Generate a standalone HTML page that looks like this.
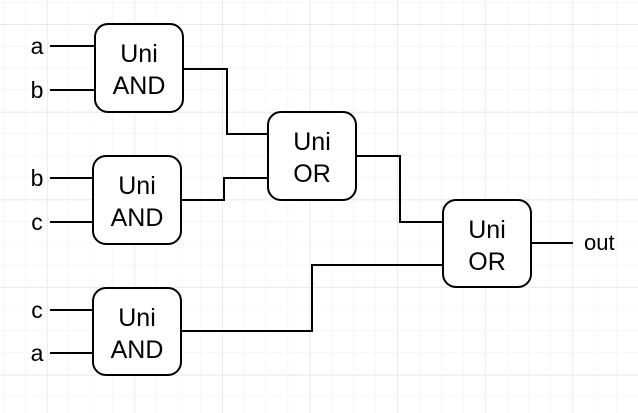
<!DOCTYPE html>
<html><head><style>
html,body{margin:0;padding:0;background:#fff;}
svg{display:block;}
text{font-family:"Liberation Sans",Arial,sans-serif;fill:#000;}
</style></head><body>
<svg width="638" height="413" viewBox="0 0 638 413" xmlns="http://www.w3.org/2000/svg">
<defs>
<pattern id="minor" width="21.9" height="21.9" patternUnits="userSpaceOnUse" x="3" y="2">
<path d="M0 0H21.9M0 0V21.9" stroke="#f0f0f0" stroke-width="1" fill="none"/>
</pattern>
<pattern id="major" width="87.6" height="87.6" patternUnits="userSpaceOnUse" x="47" y="24.5">
<path d="M0 0H87.6M0 0V87.6" stroke="#dedede" stroke-width="1" fill="none"/>
</pattern>
</defs>
<rect width="638" height="413" fill="url(#minor)"/>
<rect width="638" height="413" fill="url(#major)"/>
<g stroke="#000" stroke-width="2" fill="none">
<path d="M50 46H95M50 90H95"/>
<path d="M50 178H93M50 222H93"/>
<path d="M50 310H93M50 353H93"/>
<path d="M183 69H227V134H268"/>
<path d="M181 200H224V178H268"/>
<path d="M356 156H400V222H443"/>
<path d="M181 331H312V265H443"/>
<path d="M531 243H573"/>
<rect x="95" y="24" width="88" height="88" rx="13" fill="#fff"/>
<rect x="268" y="112" width="88" height="88" rx="13" fill="#fff"/>
<rect x="93" y="156" width="88" height="88" rx="13" fill="#fff"/>
<rect x="443" y="200" width="88" height="87" rx="13" fill="#fff"/>
<rect x="93" y="288" width="88" height="87" rx="13" fill="#fff"/>
</g>
<g text-anchor="middle" font-size="25">
<text x="139" y="62">Uni</text><text x="139" y="94">AND</text>
<text x="312" y="150">Uni</text><text x="312" y="182">OR</text>
<text x="137" y="194">Uni</text><text x="137" y="226">AND</text>
<text x="487" y="238">Uni</text><text x="487" y="270">OR</text>
<text x="137" y="326">Uni</text><text x="137" y="358">AND</text>
</g>
<g text-anchor="middle" font-size="23">
<text x="37" y="54">a</text><text x="37" y="98">b</text>
<text x="37" y="186">b</text><text x="37" y="230">c</text>
<text x="37" y="318">c</text><text x="37" y="361">a</text>
</g>
<text x="584" y="250" font-size="22">out</text>
</svg>
</body></html>
